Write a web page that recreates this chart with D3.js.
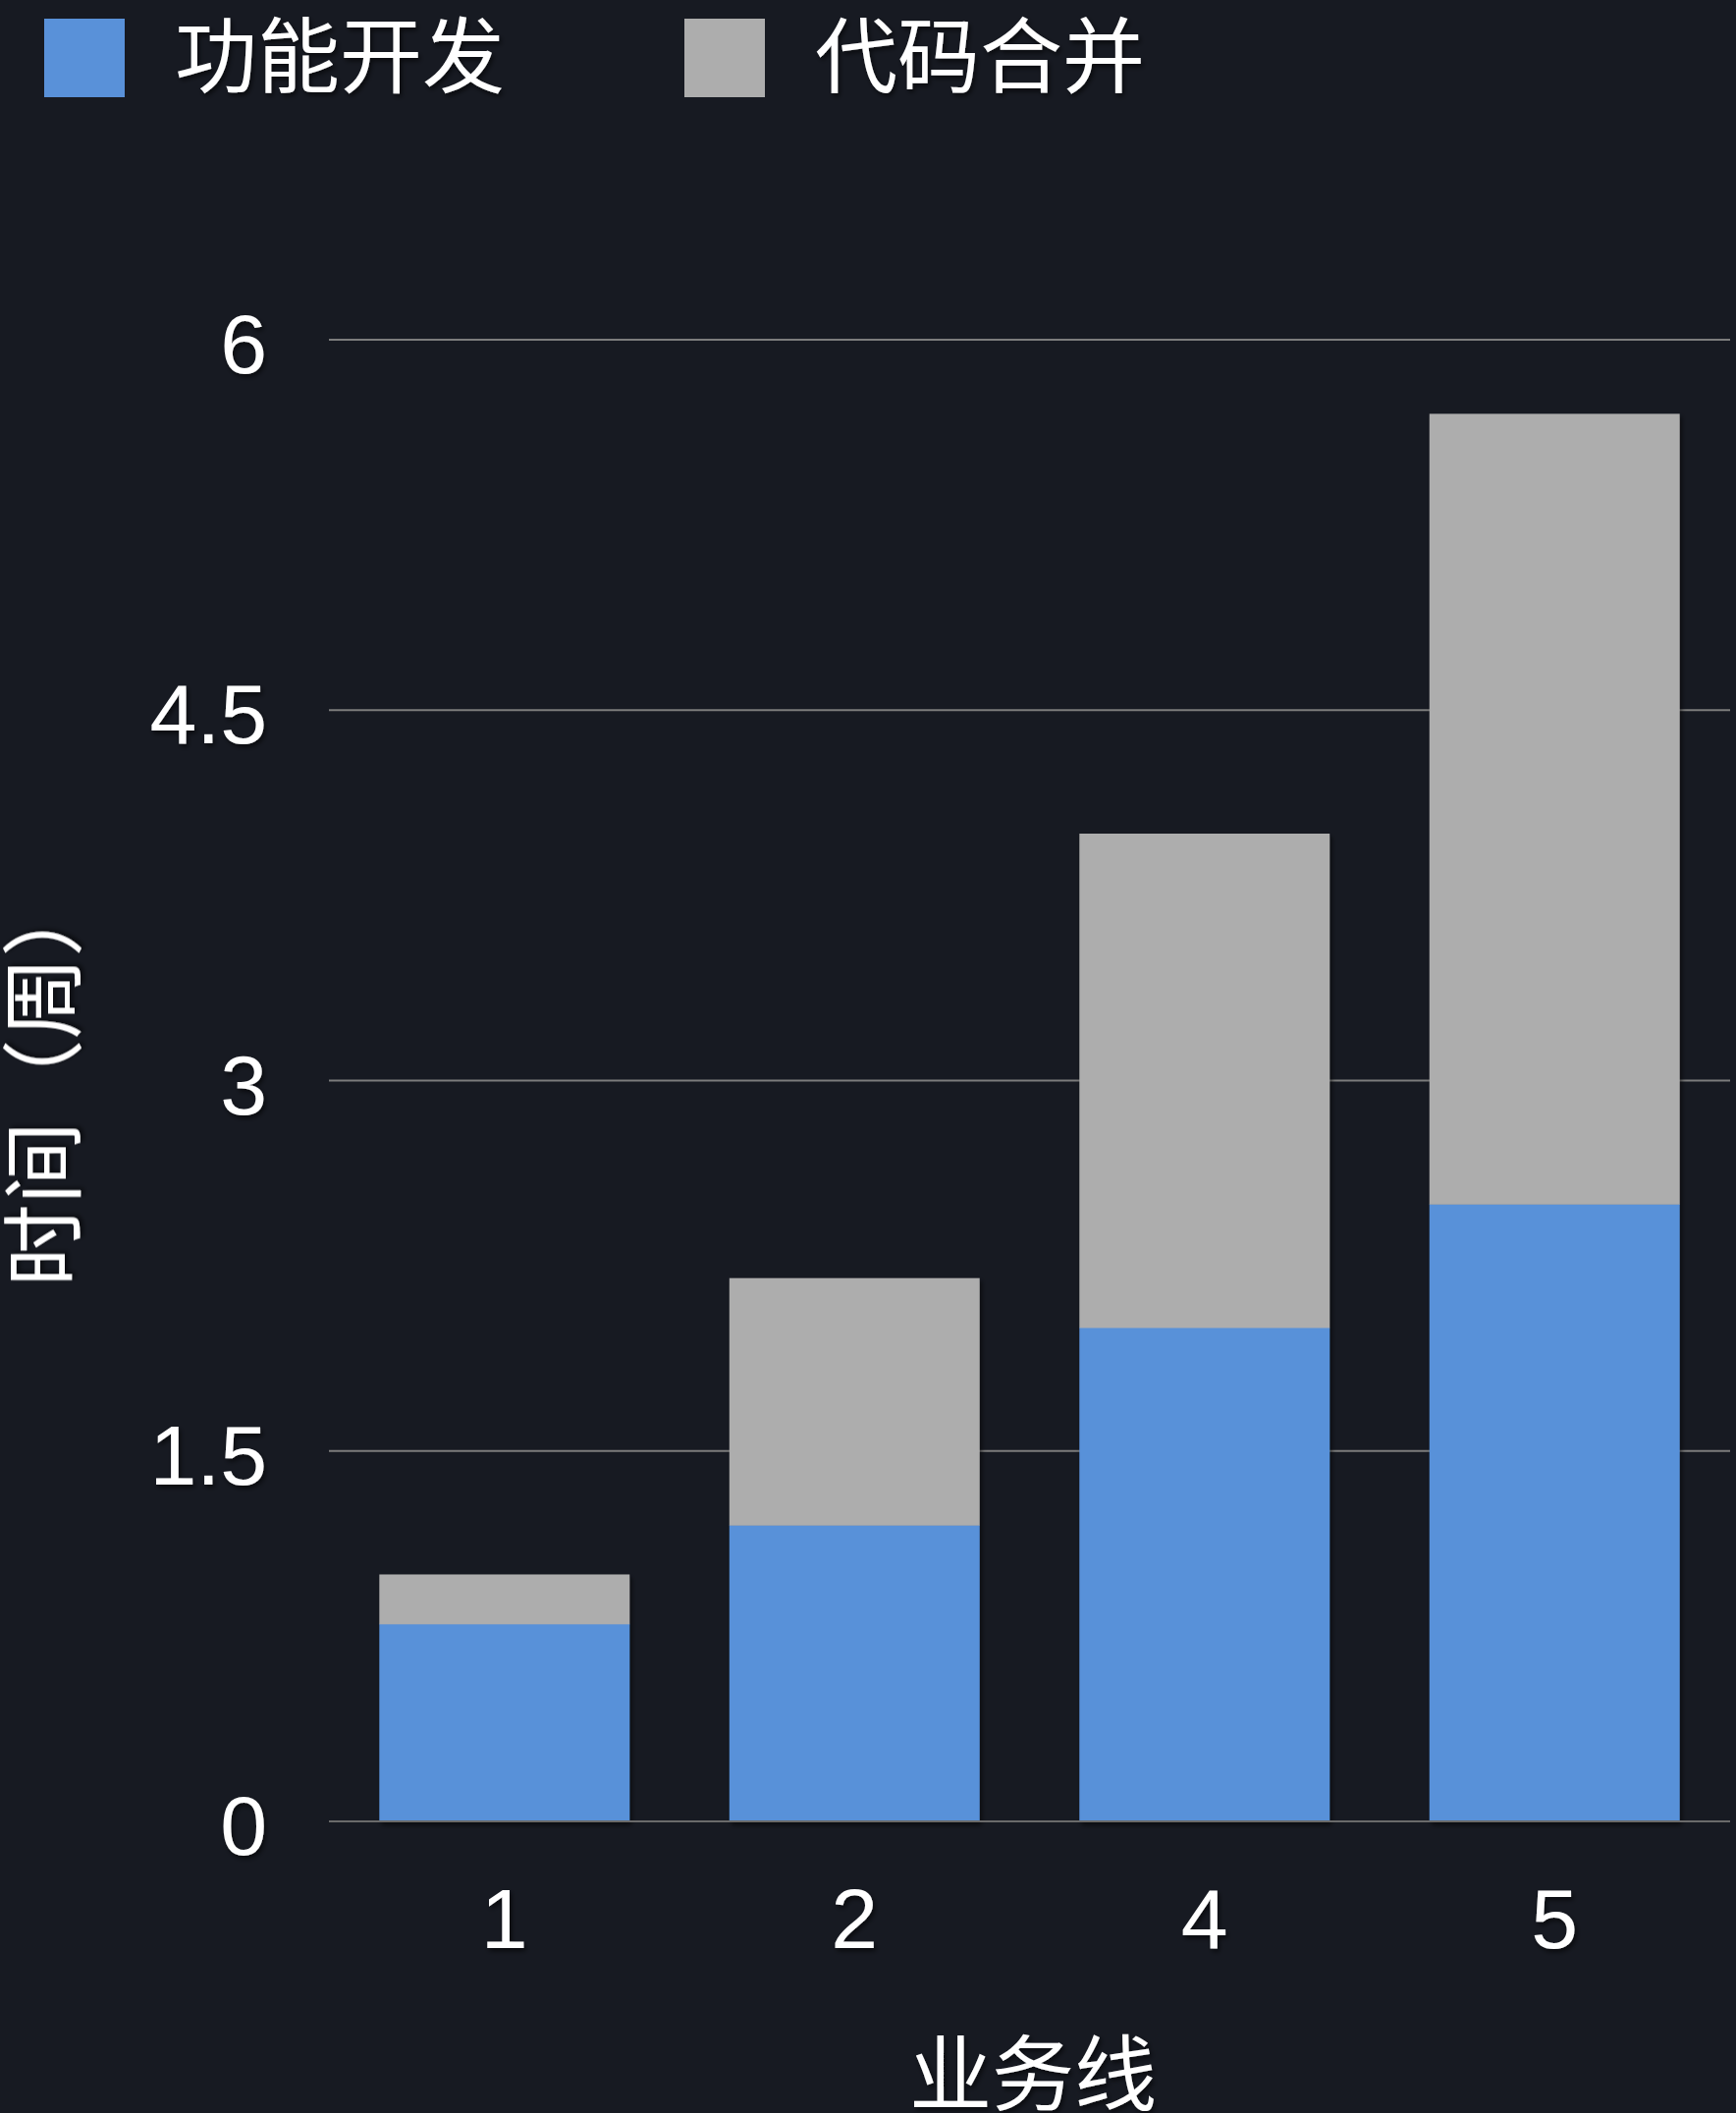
<!DOCTYPE html>
<html>
<head>
<meta charset="utf-8">
<script src="https://cdn.jsdelivr.net/npm/d3@7"></script>
<style>
  html, body { margin: 0; padding: 0; background: #171a22; }
  svg { display: block; }
  .cjk { font-family: "Noto Sans CJK SC", "Noto Sans", sans-serif; }
  .num { font-family: "Liberation Sans", Arial, sans-serif; }
</style>
</head>
<body>
<svg id="chart" width="1768" height="2152"></svg>
<script>
const categories = ["1", "2", "4", "5"];
const seriesNames = ["功能开发", "代码合并"];
const featureDev = [0.8, 1.2, 2.0, 2.5];
const codeMerge = [0.2, 1.0, 2.0, 3.2];
const yTicks = [0, 1.5, 3, 4.5, 6];
const colors = ["#5991d9", "#adadad"];
const xTitle = "业务线";
const yTitle = "时间（周）";

const svg = d3.select("#chart");
const W = 1768, H = 2152;
const plot = { left: 335, right: 1762, top: 346, bottom: 1855 };

svg.append("rect").attr("width", W).attr("height", H).attr("fill", "#171a22");

const defs = svg.append("defs");
const f = defs.append("filter").attr("id", "shadow").attr("x", "-10%").attr("y", "-10%").attr("width", "130%").attr("height", "130%");
f.append("feDropShadow").attr("dx", 2).attr("dy", 3).attr("stdDeviation", 2.5).attr("flood-color", "#000").attr("flood-opacity", 0.6);

const x = d3.scaleBand().domain(categories).range([plot.left, plot.right]).paddingInner(0.285).paddingOuter(0.144);
const y = d3.scaleLinear().domain([0, 6]).range([plot.bottom, plot.top]);

// gridlines
svg.append("g").selectAll("line").data(yTicks).join("line")
  .attr("x1", plot.left).attr("x2", plot.right)
  .attr("y1", d => y(d)).attr("y2", d => y(d))
  .attr("stroke", "#7c7c7c").attr("stroke-width", 2);

// stacked data
const rows = categories.map((c, i) => ({ cat: c, [seriesNames[0]]: featureDev[i], [seriesNames[1]]: codeMerge[i] }));
const stack = d3.stack().keys(seriesNames)(rows);

svg.append("g").attr("filter", "url(#shadow)")
  .selectAll("g").data(stack).join("g")
  .attr("fill", (d, i) => colors[i])
  .selectAll("rect").data(d => d).join("rect")
  .attr("x", d => x(d.data.cat))
  .attr("width", x.bandwidth())
  .attr("y", d => y(d[1]))
  .attr("height", d => y(d[0]) - y(d[1]) + 0.5);

// baseline redraw over bars
svg.append("line").attr("x1", plot.left).attr("x2", plot.right)
  .attr("y1", y(0)).attr("y2", y(0)).attr("stroke", "#6a6a6a").attr("stroke-width", 2);

// y axis labels
const yAxis = d3.axisLeft(y).tickValues(yTicks).tickSize(0).tickPadding(0).tickFormat(d => String(d));
const yg = svg.append("g").attr("transform", `translate(272,0)`).call(yAxis);
yg.select(".domain").remove();
yg.selectAll("text").attr("class", "num").attr("fill", "#fff").attr("font-size", 86)
  .attr("dy", "0.39em").attr("font-family", "Liberation Sans, Arial, sans-serif").attr("filter", "url(#shadow)");

// x axis labels
const xAxis = d3.axisBottom(x).tickSize(0).tickPadding(0);
const xg = svg.append("g").attr("transform", `translate(0,1984)`).call(xAxis);
xg.select(".domain").remove();
xg.selectAll("text").attr("fill", "#fff").attr("font-size", 86).attr("dy", 0)
  .attr("font-family", "Liberation Sans, Arial, sans-serif").attr("filter", "url(#shadow)");

// axis titles
svg.append("text").attr("class", "cjk").attr("x", 1052).attr("y", 2143)
  .attr("text-anchor", "middle").attr("font-size", 84).attr("fill", "#fff")
  .attr("filter", "url(#shadow)").text(xTitle);

svg.append("text").attr("class", "cjk")
  .attr("transform", `translate(75,${(plot.top + plot.bottom) / 2}) rotate(-90)`)
  .attr("text-anchor", "middle").attr("font-size", 84).attr("fill", "#fff")
  .attr("filter", "url(#shadow)").text(yTitle);

// legend
const legendX = [45, 697];
const lg = svg.append("g").selectAll("g").data(seriesNames).join("g")
  .attr("transform", (d, i) => `translate(${legendX[i]},19)`);
lg.append("rect").attr("width", 82).attr("height", 80).attr("fill", (d, i) => colors[i]);
lg.append("text").attr("class", "cjk").attr("x", 133).attr("y", 69)
  .attr("font-size", 84).attr("fill", "#fff").attr("filter", "url(#shadow)").text(d => d);
</script>
</body>
</html>
